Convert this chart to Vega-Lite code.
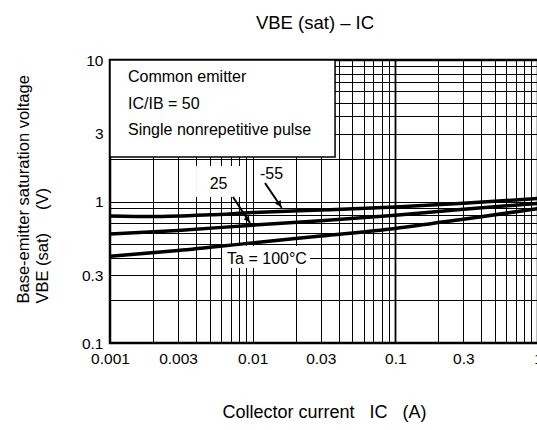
{
  "$schema": "https://vega.github.io/schema/vega-lite/v6.json",
  "width": 428,
  "height": 283,
  "autosize": {"type": "none"},
  "padding": {"left": 110, "top": 60, "right": 0, "bottom": 87},
  "background": "white",
  "config": {
    "font": "Liberation Sans",
    "view": {"stroke": "black", "strokeWidth": 2.5},
    "axis": {
      "grid": true,
      "gridColor": "black",
      "gridOpacity": 1,
      "ticks": false,
      "domain": false,
      "labelFont": "Liberation Sans",
      "labelFontSize": 15.5,
      "labelColor": "black",
      "labelOverlap": false,
      "labelFlush": false,
      "titleFont": "Liberation Sans",
      "titleFontSize": 16.5,
      "titleFontWeight": "normal",
      "titleColor": "black"
    }
  },
  "title": {
    "text": "VBE (sat) – IC",
    "font": "Liberation Sans",
    "fontSize": 18.5,
    "fontWeight": "normal",
    "color": "black",
    "anchor": "middle",
    "dx": -9,
    "offset": 21
  },
  "datasets": {
    "curves": [
      {"t": "-55", "ic": 0.001, "v": 0.79},
      {"t": "-55", "ic": 0.002, "v": 0.783},
      {"t": "-55", "ic": 0.005, "v": 0.805},
      {"t": "-55", "ic": 0.01, "v": 0.835},
      {"t": "-55", "ic": 0.03, "v": 0.87},
      {"t": "-55", "ic": 0.1, "v": 0.915},
      {"t": "-55", "ic": 0.3, "v": 0.97},
      {"t": "-55", "ic": 1, "v": 1.05},
      {"t": "25", "ic": 0.001, "v": 0.59},
      {"t": "25", "ic": 0.003, "v": 0.625},
      {"t": "25", "ic": 0.01, "v": 0.68},
      {"t": "25", "ic": 0.03, "v": 0.73},
      {"t": "25", "ic": 0.1, "v": 0.8},
      {"t": "25", "ic": 0.3, "v": 0.88},
      {"t": "25", "ic": 1, "v": 0.97},
      {"t": "100", "ic": 0.001, "v": 0.41},
      {"t": "100", "ic": 0.003, "v": 0.45},
      {"t": "100", "ic": 0.01, "v": 0.51},
      {"t": "100", "ic": 0.03, "v": 0.57},
      {"t": "100", "ic": 0.1, "v": 0.645},
      {"t": "100", "ic": 0.3, "v": 0.75},
      {"t": "100", "ic": 1, "v": 0.89}
    ],
    "box": [{"ic": 0.001, "ic2": 0.0378, "v": 2.063, "v2": 10}],
    "bgs": [
      {"ic": 0.00401, "ic2": 0.00842, "v": 1.076, "v2": 1.78},
      {"ic": 0.01055, "ic2": 0.01887, "v": 1.373, "v2": 1.9},
      {"ic": 0.0061, "ic2": 0.02523, "v": 0.339, "v2": 0.485}
    ],
    "arrows": [
      {"ic": 0.00728, "v": 1.076, "ic2": 0.00958, "v2": 0.705},
      {"ic": 0.0122, "v": 1.351, "ic2": 0.01598, "v2": 0.904}
    ],
    "heads": [
      {"ic": 0.00925, "v": 0.744, "ang": 146},
      {"ic": 0.01542, "v": 0.954, "ang": 146}
    ],
    "labels": [
      {"ic": 0.00577, "v": 1.33, "txt": "25"},
      {"ic": 0.01356, "v": 1.577, "txt": "-55"},
      {"ic": 0.0126, "v": 0.3924, "txt": "Ta = 100°C"}
    ],
    "boxtext": [
      {"ic": 0.001337, "v": 7.62, "txt": "Common emitter"},
      {"ic": 0.001337, "v": 4.89, "txt": "IC/IB = 50"},
      {"ic": 0.001337, "v": 3.227, "txt": "Single nonrepetitive pulse"}
    ]
  },
  "encoding": {
    "x": {
      "field": "ic",
      "type": "quantitative",
      "scale": {"type": "log", "domain": [0.001, 1], "nice": false},
      "axis": {
        "title": "Collector current\u00a0\u00a0\u00a0IC\u00a0\u00a0\u00a0(A)",
        "titleFontSize": 18,
        "titlePadding": 37,
        "labelPadding": 8,
        "values": [0.001,0.002,0.003,0.004,0.005,0.006,0.007,0.008,0.009,0.01,0.02,0.03,0.04,0.05,0.06,0.07,0.08,0.09,0.1,0.2,0.3,0.4,0.5,0.6,0.7,0.8,0.9,1],
        "format": "~g",
        "labelExpr": "indexof([0.001,0.003,0.01,0.03,0.1,0.3,1], datum.value) >= 0 ? datum.label : ''",
        "gridWidth": {"condition": {"test": "datum.value == 0.1", "value": 1.8}, "value": 1}
      }
    },
    "y": {
      "field": "v",
      "type": "quantitative",
      "scale": {"type": "log", "domain": [0.1, 10], "nice": false},
      "axis": {
        "title": ["Base-emitter saturation voltage", "VBE (sat)\u00a0\u00a0\u00a0\u00a0\u00a0(V)"],
        "titleAlign": "left",
        "titleY": 243,
        "titleX": -95,
        "titleBaseline": "top",
        "titleLineHeight": 19,
        "labelPadding": 7,
        "values": [0.1,0.2,0.3,0.4,0.5,0.6,0.7,0.8,0.9,1,2,3,4,5,6,7,8,9,10],
        "format": "~g",
        "labelExpr": "indexof([0.1,0.3,1,3,10], datum.value) >= 0 ? datum.label : ''",
        "gridWidth": 1
      }
    }
  },
  "layer": [
    {
      "data": {"name": "box"},
      "mark": {"type": "rect", "fill": "white", "stroke": "black", "strokeWidth": 1.5},
      "encoding": {"x2": {"field": "ic2"}, "y2": {"field": "v2"}}
    },
    {
      "data": {"name": "bgs"},
      "mark": {"type": "rect", "fill": "white", "stroke": null},
      "encoding": {"x2": {"field": "ic2"}, "y2": {"field": "v2"}}
    },
    {
      "data": {"name": "curves"},
      "mark": {"type": "line", "color": "black", "strokeWidth": 3.5, "interpolate": "monotone", "clip": true},
      "encoding": {"detail": {"field": "t"}}
    },
    {
      "data": {"name": "arrows"},
      "mark": {"type": "rule", "color": "black", "strokeWidth": 2},
      "encoding": {"x2": {"field": "ic2"}, "y2": {"field": "v2"}}
    },
    {
      "data": {"name": "heads"},
      "mark": {"type": "point", "shape": "triangle-up", "filled": true, "color": "black", "opacity": 1, "size": 45},
      "encoding": {"angle": {"field": "ang", "type": "quantitative", "scale": null}}
    },
    {
      "data": {"name": "labels"},
      "mark": {"type": "text", "fontSize": 16, "font": "Liberation Sans", "color": "black", "align": "center", "baseline": "middle"},
      "encoding": {"text": {"field": "txt"}}
    },
    {
      "data": {"name": "boxtext"},
      "mark": {"type": "text", "fontSize": 16, "font": "Liberation Sans", "color": "black", "align": "left", "baseline": "middle"},
      "encoding": {"text": {"field": "txt"}}
    }
  ]
}
